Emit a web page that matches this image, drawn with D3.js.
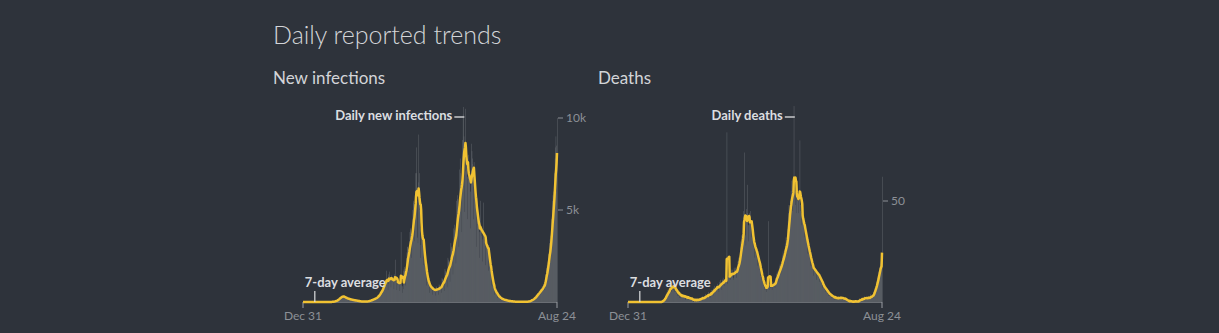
<!DOCTYPE html>
<html><head><meta charset="utf-8">
<script src="https://cdn.jsdelivr.net/npm/d3@7"></script>
<style>
html,body{margin:0;padding:0;background:#2e333b;}
svg{display:block;}
</style></head><body>
<svg id="c" width="1219" height="333"></svg>
<script>
const startDate = "2019-12-31";
const endDate = "2021-08-24";
const avgLabelDate = "2020-01-28";
const chartTitle = "Daily reported trends";
const panelTitles = ["New infections", "Deaths"];
const barLabels = ["Daily new infections", "Daily deaths"];
const avgLabel = "7-day average";
const xTickLabels = ["Dec 31", "Aug 24"];
const infectionTicks = [5000, 10000];
const infectionTickLabels = ["5k", "10k"];
const deathTicks = [50];
const deathTickLabels = ["50"];

// one value per day, Dec 31 2019 .. Aug 24 2021
const dailyInfections = [
0,0,0,0,0,0,0, 0,0,0,0,0,0,0, 0,0,0,0,0,0,0, 0,0,0,0,0,0,0,
0,0,0,0,0,0,0, 0,0,0,0,0,0,0, 0,0,0,0,0,0,0, 0,0,0,0,0,0,0,
1,0,2,3,2,1,4, 4,6,5,8,10,7,12, 15,20,25,32,40,45,55, 60,75,90,100,110,130,140,
180,200,230,250,240,260,270, 310,330,290,280,320,300,250, 260,240,230,210,200,190,210, 170,180,160,150,160,140,150,
130,120,125,110,115,100,120, 100,90,85,95,80,70,90, 70,60,65,55,50,45,60, 40,35,30,25,30,20,30,
25,20,30,22,28,18,27, 25,30,35,28,32,25,40, 50,60,70,65,80,55,90, 110,120,140,130,150,110,160,
180,190,220,200,230,170,240, 280,320,360,350,400,300,420, 500,560,620,640,680,520,700, 850,950,1050,1000,1100,900,1150,
1200,1100,1700,1150,1250,650,1000, 1500,1650,1400,1300,1250,800,1200, 1450,1350,1250,1200,1150,700,1300, 1500,2300,1200,1100,1100,650,950,
1300,1200,1100,1050,1000,600,1100, 1300,3800,1000,900,850,500,700, 1700,1800,1900,1700,1600,900,1600, 2400,2700,3000,3000,2900,1700,2500,
3300,3800,4000,3900,3700,2400,3400, 4200,5000,5500,5400,5300,3300,4900, 6000,7000,8400,7000,5500,3500,3200, 6500,9100,7000,5000,4000,2400,3100,
4500,4200,3800,3300,3000,2000,3000, 2500,2200,2000,1800,1600,900,1600, 1300,1200,1100,1000,900,500,1000, 950,900,800,750,700,400,750,
800,750,700,650,600,350,700, 850,800,750,700,650,400,750, 950,900,850,800,750,500,850, 1300,1250,1200,1100,1050,600,1200,
1800,1700,1600,1500,1450,800,1650, 2400,2300,2200,2000,1900,1100,2100, 3200,3000,2900,2800,2600,1500,2900, 4000,4200,3900,3700,3500,2100,3800,
5500,5800,5600,5200,4800,3000,5100, 7200,7800,7000,6500,6200,3800,6300, 8800,10200,10600,9000,8200,4900,7100, 10500,8600,7600,7200,6800,4500,8000,
7600,7200,7000,6600,6000,4000,7100, 8600,8200,7800,7500,6900,4500,7600, 6200,5800,5500,5200,5000,3000,5700, 4800,4500,4200,4000,3800,2400,4300,
5500,4200,3800,3600,3400,2200,3900, 5400,3900,3500,3300,3100,2000,3300, 3500,3300,3100,2900,2700,1700,3100, 2200,2000,1800,1700,1600,900,1700,
1100,1000,850,800,700,400,750, 600,550,500,450,400,220,430, 330,300,280,250,220,120,250, 200,180,160,150,130,70,160,
130,120,110,100,90,50,100, 80,70,65,60,55,30,60, 55,50,45,40,35,20,35, 28,25,22,20,18,10,17,
20,18,16,15,13,8,15, 14,12,11,10,9,5,9, 13,12,11,10,9,6,9, 18,17,16,15,14,9,16,
30,35,40,42,45,30,58, 100,110,120,130,140,90,150, 200,220,250,270,290,190,330, 380,410,450,480,500,330,600,
560,600,650,700,720,480,840, 750,820,900,980,1050,650,1150, 1350,1500,1700,1850,2000,1300,2200, 2400,2600,2900,3200,3400,2200,3600,
4000,4500,5000,5500,5800,4200,6000, 6200,7000,7800,8400,9000,6000,8500,
10000
];

const dailyDeaths = [
0,0,0,0,0,0,0, 0,0,0,0,0,0,0, 0,0,0,0,0,0,0, 0,0,0,0,0,0,0,
0,0,0,0,0,0,0, 0,0,0,0,0,0,0, 0,0,0,0,0,0,0, 0,0,0,0,0,0,0,
0,0,0,0,0,0,0, 0,0,0,0,0,0,0, 0,0,0,0,0,0,0, 0,0,0,1,0,1,1,
1,1,2,2,3,2,4, 4,5,3,6,5,4,7, 6,9,7,8,5,6,10, 8,7,9,6,8,5,9,
6,5,4,6,5,3,6, 4,3,5,2,4,2,4, 3,4,2,3,2,3,4, 3,2,3,1,3,2,3,
2,3,1,2,2,1,3, 2,1,2,1,1,2,1, 1,0,2,1,1,0,2, 1,1,0,2,1,1,1,
2,1,1,2,1,2,2, 2,3,1,2,2,1,3, 3,4,2,3,3,2,4, 4,3,5,3,4,2,4,
5,6,4,6,5,3,6, 7,6,8,5,7,5,8, 8,9,7,8,6,5,10, 9,11,8,10,8,6,11,
11,12,10,9,11,8,13, 12,10,11,84,12,9,13, 13,14,12,15,13,11,16, 15,13,14,16,12,11,17,
16,15,14,17,15,12,16, 18,20,22,19,21,17,23, 27,30,33,29,31,26,34, 38,45,74,36,40,33,28,
40,46,58,44,38,30,38, 44,42,40,45,38,32,39, 33,31,28,30,27,22,32, 27,25,24,26,22,18,26,
21,19,18,20,16,13,19, 13,12,11,12,10,8,11, 8,7,6,8,7,5,8, 8,9,8,40,8,6,9,
9,8,7,9,8,6,9, 10,9,8,10,9,7,10, 12,14,13,15,12,10,15, 16,18,17,19,16,14,19,
20,23,22,25,21,18,25, 26,29,28,32,27,23,31, 36,40,44,48,45,38,50, 50,55,52,60,54,45,55,
58,97,62,56,55,48,44, 55,58,50,54,52,44,51, 52,80,48,45,44,38,43, 42,40,38,39,36,32,39,
33,32,30,31,28,24,32, 26,24,23,24,21,18,25, 19,18,17,18,16,13,18, 17,16,15,16,14,11,16,
14,15,13,14,12,10,13, 11,12,10,11,9,7,10, 8,7,8,7,6,5,8, 6,5,6,5,4,3,6,
4,3,4,4,3,2,4, 3,2,3,3,2,1,3, 2,3,2,2,1,2,2, 2,2,3,1,2,2,2,
3,2,2,2,1,2,2, 2,1,2,1,2,1,1, 1,0,1,0,1,0,1, 0,1,0,0,1,0,0,
0,0,1,0,0,1,0, 1,0,0,0,0,1,0, 1,1,0,2,1,1,1, 2,1,2,1,2,1,2,
2,3,2,1,2,2,2, 2,2,3,2,2,1,2, 3,4,3,3,2,3,3, 4,5,6,6,7,6,8,
8,10,11,12,13,12,15, 15,17,18,19,20,16,19,
62
];

const parse = d3.timeParse("%Y-%m-%d");
const t0 = parse(startDate), t1 = parse(endDate);
const dates = d3.timeDay.range(t0, d3.timeDay.offset(t1, 1));

function rolling(arr) {
  return arr.map((v, i) => d3.mean(arr.slice(Math.max(0, i - 6), i + 1)));
}

const svg = d3.select("#c");
const FONT = "Lato, 'Noto Sans', sans-serif";

svg.append("text").attr("x", 273).attr("y", 44)
  .attr("font-family", FONT).attr("font-weight", 300).attr("font-size", 25)
  .attr("fill", "#d3d5d8").text(chartTitle);

const panels = [
  { left: 273, x0: 303, x1: 557, data: dailyInfections, domain: [0, 10000], top: 118,
    ticks: infectionTicks, tickLabels: infectionTickLabels, title: panelTitles[0], barLabel: barLabels[0] },
  { left: 598, x0: 628, x1: 882, data: dailyDeaths, domain: [0, 50], top: 201,
    ticks: deathTicks, tickLabels: deathTickLabels, title: panelTitles[1], barLabel: barLabels[1] }
];
const baseY = 302;

panels.forEach(p => {
  const g = svg.append("g");
  g.append("text").attr("x", p.left).attr("y", 84)
    .attr("font-family", FONT).attr("font-size", 17).attr("font-weight", 400)
    .attr("fill", "#d3d5d8").text(p.title);

  const x = d3.scaleTime().domain([t0, t1]).range([p.x0, p.x1]);
  const y = d3.scaleLinear().domain(p.domain).range([baseY, p.top]);
  const bw = x(d3.timeDay.offset(t0, 1)) - x(t0);

  // bars
  g.append("g").selectAll("rect").data(p.data).join("rect")
    .attr("x", (d, i) => x(dates[i]))
    .attr("width", bw)
    .attr("y", d => y(d))
    .attr("height", d => baseY - y(d))
    .attr("fill", "#6a6e74");

  // x axis baseline and end ticks
  g.append("line").attr("x1", p.x0).attr("x2", p.x1).attr("y1", baseY + 0.5).attr("y2", baseY + 0.5)
    .attr("stroke", "#6a6e74").attr("stroke-width", 1);
  const xt = [t0, t1];
  xt.forEach((d, i) => {
    g.append("line").attr("x1", x(d)).attr("x2", x(d)).attr("y1", baseY).attr("y2", baseY + 6)
      .attr("stroke", "#9a9ea4").attr("stroke-width", 1);
    g.append("text").attr("x", x(d)).attr("y", 320).attr("text-anchor", "middle")
      .attr("font-family", FONT).attr("font-size", 12).attr("fill", "#8c9096").text(xTickLabels[i]);
  });

  // y ticks on the right
  p.ticks.forEach((t, i) => {
    g.append("line").attr("x1", p.x1 + 1).attr("x2", p.x1 + 6).attr("y1", y(t)).attr("y2", y(t))
      .attr("stroke", "#8c9096").attr("stroke-width", 1);
    g.append("text").attr("x", p.x1 + 9).attr("y", y(t)).attr("dy", "0.35em")
      .attr("font-family", FONT).attr("font-size", 12).attr("fill", "#8c9096").text(p.tickLabels[i]);
  });

  // 7-day average line
  const avg = rolling(p.data);
  const line = d3.line().x((d, i) => x(dates[i])).y(d => y(d));
  g.append("path").datum(avg).attr("d", line).attr("fill", "none")
    .attr("stroke", "#f1c232").attr("stroke-width", 2.5).attr("stroke-linejoin", "round");

  // annotation: bars
  const maxI = d3.maxIndex(p.data.slice(0, 500));
  const mx = x(dates[maxI]);
  g.append("line").attr("x1", mx - 9).attr("x2", mx + 1).attr("y1", 117).attr("y2", 117)
    .attr("stroke", "#c8cacd").attr("stroke-width", 1.5);
  g.append("text").attr("x", mx - 11).attr("y", 120).attr("text-anchor", "end")
    .attr("font-family", FONT).attr("font-weight", 700).attr("font-size", 13)
    .attr("fill", "#dcdee0").text(p.barLabel);

  // annotation: average
  const ax = x(parse(avgLabelDate));
  g.append("line").attr("x1", ax).attr("x2", ax).attr("y1", 291).attr("y2", baseY)
    .attr("stroke", "#dcdee0").attr("stroke-width", 1.2);
  g.append("text").attr("x", ax - 10).attr("y", 287)
    .attr("font-family", FONT).attr("font-weight", 700).attr("font-size", 13)
    .attr("fill", "#dcdee0").text(avgLabel);
});
</script>
</body></html>
